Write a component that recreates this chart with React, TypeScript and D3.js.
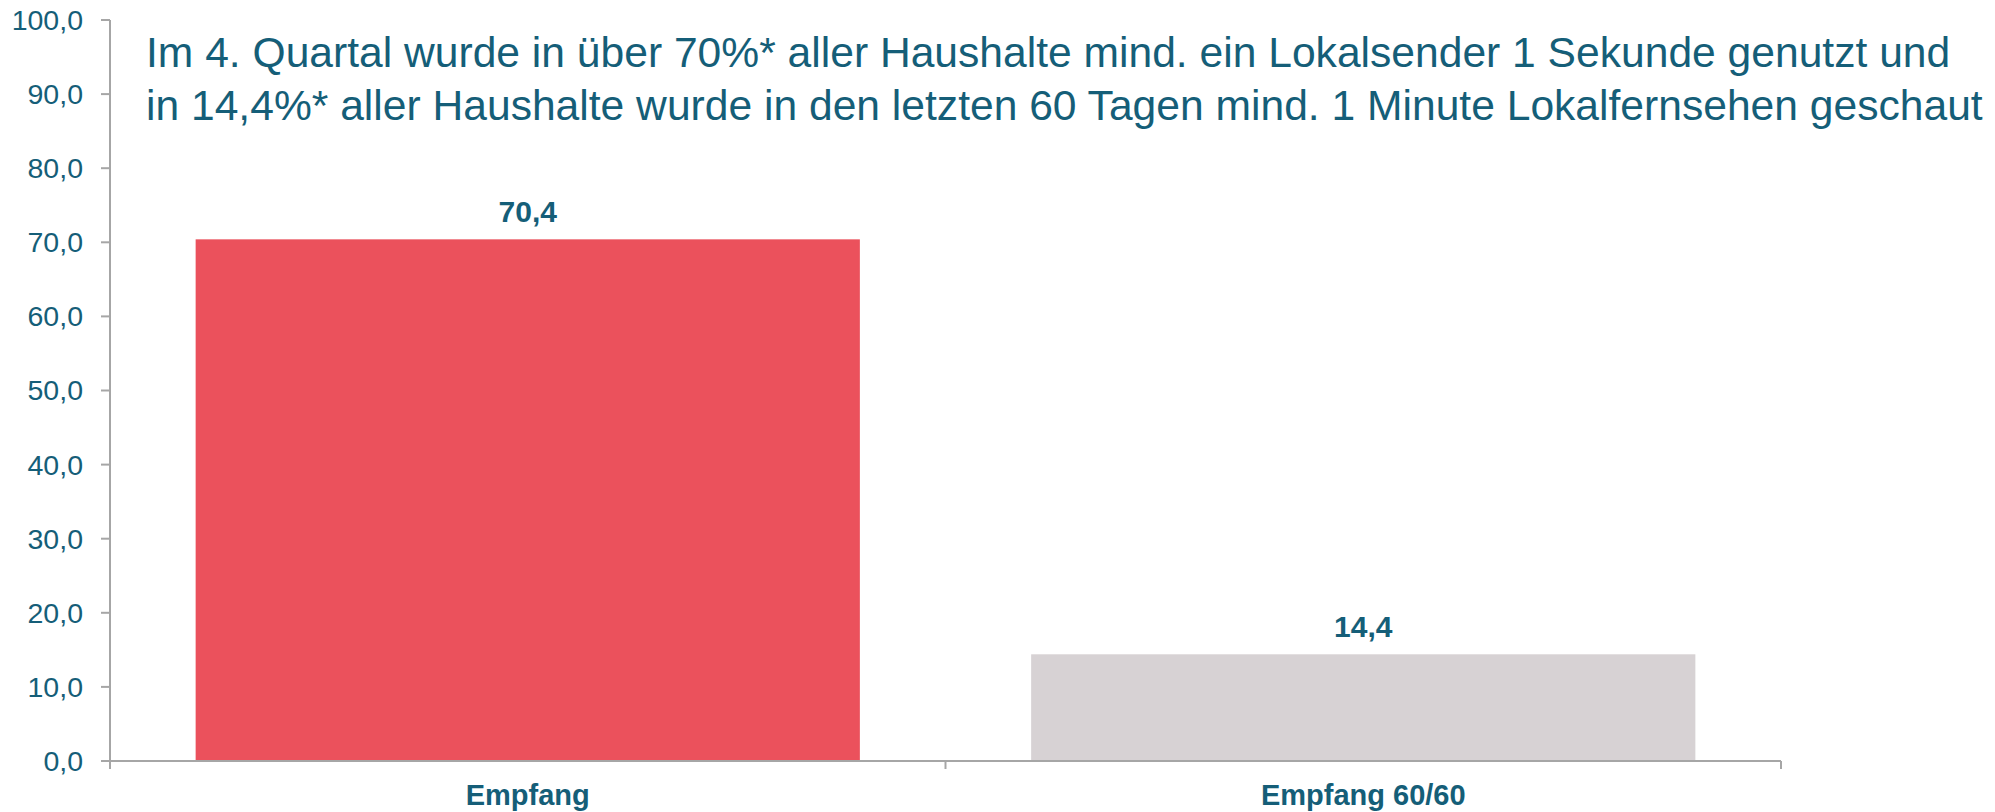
import React from "react";
import * as d3 from "d3";

const categories = ["Empfang", "Empfang 60/60"];
const values = [70.4, 14.4];
const barColors = ["#EB515C", "#D7D2D4"];
const yTicks = [0, 10, 20, 30, 40, 50, 60, 70, 80, 90, 100];
const titleLines = [
  "Im 4. Quartal wurde in über 70%* aller Haushalte mind. ein Lokalsender 1 Sekunde genutzt und",
  "in 14,4%* aller Haushalte wurde in den letzten 60 Tagen mind. 1 Minute Lokalfernsehen geschaut",
];

const W = 1995;
const H = 812;
const textColor = "#155E78";
const axisColor = "#A6A6A6";
const font = "'Liberation Sans', Arial, sans-serif";

// deutsches Zahlenformat: Komma als Dezimaltrenner
const de = d3.formatLocale({ decimal: ",", thousands: ".", grouping: [3], currency: ["", " €"] });
const fmt = de.format(".1f");

const App = () => {
  const y = d3.scaleLinear().domain([0, 100]).range([761, 20]);
  const x = d3
    .scaleBand<string>()
    .domain(categories)
    .range([110, 1781])
    .paddingInner(0.205)
    .paddingOuter(0.1025);
  const step = x.step();
  const [x0, x1] = x.range();
  const y0 = y(0);

  return (
    <svg
      width={W}
      height={H}
      style={{ position: "absolute", left: 0, top: 0, background: "#fff" }}
      fontFamily={font}
    >
      {/* Balken */}
      {categories.map((c, i) => (
        <rect
          key={c}
          x={x(c)}
          y={y(values[i])}
          width={x.bandwidth()}
          height={y0 - y(values[i])}
          fill={barColors[i]}
        />
      ))}

      {/* Werte über den Balken */}
      {categories.map((c, i) => (
        <text
          key={c + "-v"}
          x={(x(c) ?? 0) + x.bandwidth() / 2}
          y={y(values[i]) - 17}
          textAnchor="middle"
          fontSize={30}
          fontWeight="bold"
          fill={textColor}
        >
          {fmt(values[i])}
        </text>
      ))}

      {/* y-Achse */}
      <line x1={x0} x2={x0} y1={y(100)} y2={y0} stroke={axisColor} strokeWidth={2} />
      {yTicks.map((t) => (
        <g key={t}>
          <line x1={x0 - 9} x2={x0} y1={y(t)} y2={y(t)} stroke={axisColor} strokeWidth={2} />
          <text
            x={83}
            y={y(t)}
            dy="0.35em"
            textAnchor="end"
            fontSize={28.5}
            fill={textColor}
          >
            {fmt(t)}
          </text>
        </g>
      ))}

      {/* x-Achse */}
      <line x1={x0} x2={x1} y1={y0} y2={y0} stroke={axisColor} strokeWidth={2} />
      {d3.range(categories.length + 1).map((i) => (
        <line
          key={i}
          x1={x0 + i * step}
          x2={x0 + i * step}
          y1={y0}
          y2={y0 + 8}
          stroke={axisColor}
          strokeWidth={2}
        />
      ))}
      {categories.map((c) => (
        <text
          key={c + "-l"}
          x={(x(c) ?? 0) + x.bandwidth() / 2}
          y={805}
          textAnchor="middle"
          fontSize={29}
          fontWeight="bold"
          fill={textColor}
        >
          {c}
        </text>
      ))}

      {/* Titel */}
      {titleLines.map((l, i) => (
        <text key={i} x={146} y={67 + i * 53} fontSize={42.6} fill={textColor}>
          {l}
        </text>
      ))}
    </svg>
  );
};

export default App;
